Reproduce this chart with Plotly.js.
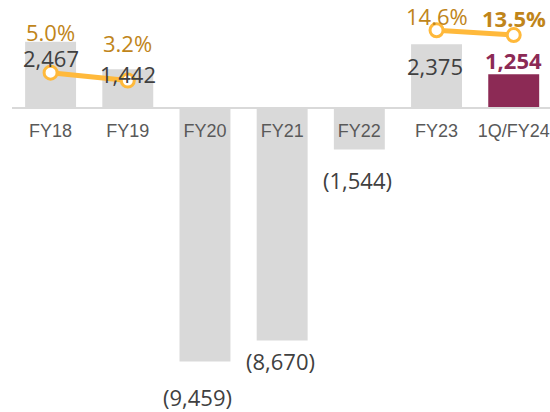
<!DOCTYPE html>
<html><head><meta charset="utf-8">
<script src="https://cdn.plot.ly/plotly-3.0.1.min.js"></script>
<style>html,body{margin:0;padding:0;background:#fff}#chart{width:550px;height:412px}</style>
</head><body><div id="chart"></div>
<script>
const categories = ['FY18','FY19','FY20','FY21','FY22','FY23','1Q/FY24'];
const netValues = [2467, 1442, -9459, -8670, -1544, 2375, 1254];
const marginPct = [5.0, 3.2, null, null, null, 14.6, 13.5];

const barColors = ['#d9d9d9','#d9d9d9','#d9d9d9','#d9d9d9','#d9d9d9','#d9d9d9','#8c2a55'];
const valueShiftY = [-16, -5, -35, -21, -31, -22, 14];
const valueShiftX = [0, 0, -7, -2, -2, -2, 0];
const pctShiftY = [41, 38, 0, 0, 0, 14, 17];

const yMin = -11339, yMax = 4028;
function fmt(v){ const s = Math.abs(v).toLocaleString('en-US'); return v < 0 ? '(' + s + ')' : s; }

const annotations = [];
categories.forEach((c,i)=>{
  const last = i === categories.length-1;
  annotations.push({x:c, y:netValues[i], xref:'x', yref:'y', text: last ? '<b>'+fmt(netValues[i])+'</b>' : fmt(netValues[i]),
    showarrow:false, yanchor:'middle', xanchor:'center', yshift:valueShiftY[i], xshift:valueShiftX[i],
    font:{family:'Open Sans, sans-serif', size:22, color: last ? '#8c2a55' : '#404040'}});
  if (marginPct[i] !== null) {
    annotations.push({x:c, y:marginPct[i], xref:'x', yref:'y2', text: last ? '<b>'+marginPct[i].toFixed(1)+'%</b>' : marginPct[i].toFixed(1)+'%',
      showarrow:false, yanchor:'middle', xanchor:'center', yshift:pctShiftY[i],
      font:{family:'Open Sans, sans-serif', size:22, color:'#c0851a'}});
  }
});

const traces = [
  {type:'bar', x:categories, y:netValues, marker:{color:barColors}, width:0.66, hoverinfo:'none'},
  {type:'scatter', mode:'lines+markers', x:categories, y:marginPct, yaxis:'y2', connectgaps:false,
   line:{color:'#ffb93b', width:5}, marker:{size:13, color:'#ffffff', line:{color:'#ffb93b', width:3}}, hoverinfo:'none'}
];

const layout = {
  width:550, height:412, margin:{l:12, r:0, t:0, b:0},
  paper_bgcolor:'#ffffff', plot_bgcolor:'#ffffff', showlegend:false,
  xaxis:{type:'category', range:[-0.5, 6.47], anchor:'free', position:(0-yMin)/(yMax-yMin),
    showline:true, linecolor:'#d9d9d9', linewidth:2, ticks:'', showgrid:false, zeroline:false,
    tickfont:{family:'Liberation Sans, Arial, sans-serif', size:18, color:'#595959'}, ticklabelstandoff:6},
  yaxis:{range:[yMin, yMax], visible:false, showgrid:false, zeroline:false},
  yaxis2:{range:[-71.8, 21.44], overlaying:'y', visible:false, showgrid:false, zeroline:false},
  annotations: annotations
};
Plotly.newPlot('chart', traces, layout, {displayModeBar:false, staticPlot:true});
</script></body></html>
